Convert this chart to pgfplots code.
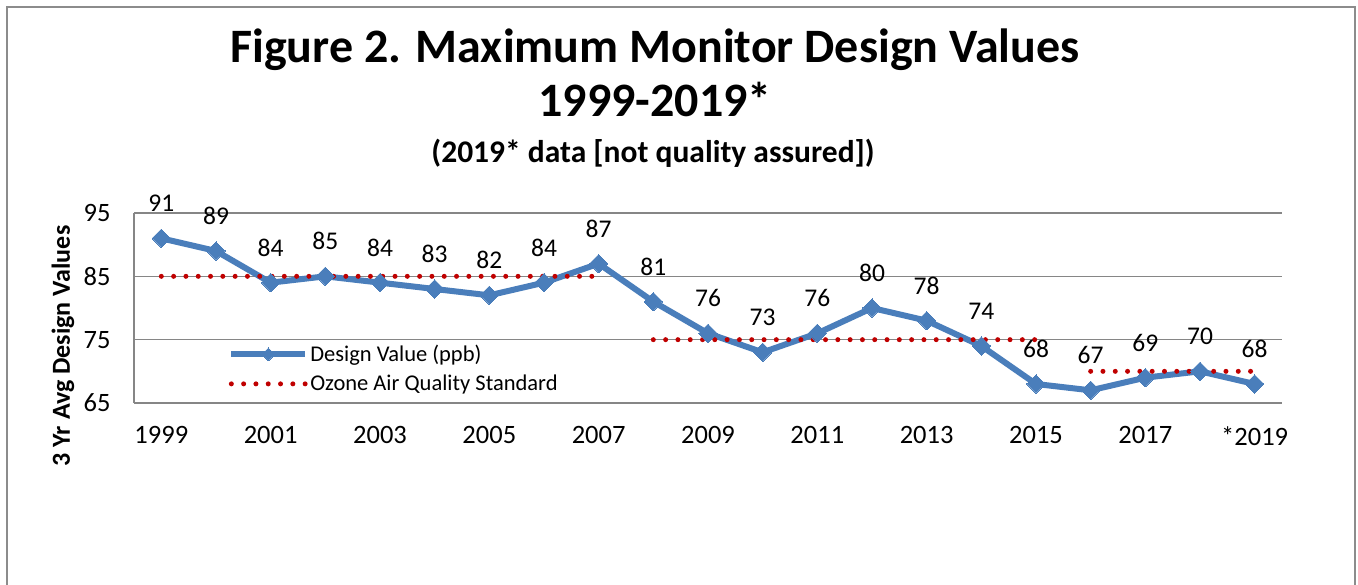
\documentclass[border=0pt]{standalone}
\usepackage{pgfplots}
\pgfplotsset{compat=1.18}
\usepackage{pgfplotstable}
\usepackage{fontspec}
\setmainfont{Carlito}
\definecolor{dvblue}{RGB}{74,126,187}
\definecolor{stdred}{RGB}{192,0,0}
\definecolor{gridgray}{RGB}{134,134,134}
\definecolor{framegray}{RGB}{140,140,140}
\pgfplotsset{
  dvlegend/.style={legend image code/.code={\draw[mark repeat=2,mark phase=2,mark size=4.5pt,##1] plot coordinates {(0pt,0pt) (37pt,0pt) (74pt,0pt)};}},
  stdlegend/.style={legend image code/.code={\draw[##1] (0pt,0pt) -- (74pt,0pt);}},
}
\pgfplotstableread{
x y lab
0 91 91
1 89 89
2 84 84
3 85 85
4 84 84
5 83 83
6 82 82
7 84 84
8 87 87
9 81 81
10 76 76
11 73 73
12 76 76
13 80 80
14 78 78
15 74 74
16 68 68
17 67 67
18 69 69
19 70 70
20 68 68
}\dvdata
\pgfplotstableread{
x y
0 85
1 85
2 85
3 85
4 85
5 85
6 85
7 85
8 85
8.5 nan
9 75
10 75
11 75
12 75
13 75
14 75
15 75
16 75
16.5 nan
17 70
18 70
19 70
20 70
}\stddata
\begin{document}
\begin{tikzpicture}
\useasboundingbox (0,0) rectangle (1358pt,584pt);
\clip (0,0) rectangle (1358pt,584pt);
\fill[white] (0,0) rectangle (1358pt,584pt);
\draw[framegray, line width=1.6pt] (7pt,-20pt) rectangle (1355pt,577pt);
\node[anchor=base, font=\bfseries\fontsize{48}{58}\selectfont] at (655pt,521pt) {Figure 2. Maximum Monitor Design Values};
\node[anchor=base, font=\bfseries\fontsize{48}{58}\selectfont] at (655pt,467pt) {1999-2019*};
\node[anchor=base, font=\bfseries\fontsize{31.5}{38}\selectfont] at (653pt,421pt) {(2019* data [not quality assured])};
\node[rotate=90, font=\bfseries\fontsize{26}{31}\selectfont] at (63pt,238pt) {3 Yr Avg Design Values};
\begin{axis}[
  at={(134pt,181pt)}, anchor=south west,
  scale only axis, width=1148pt, height=190pt,
  xmin=-0.5, xmax=20.5, ymin=65, ymax=95,
  ytick={65,75,85,95},
  xtick={0,2,...,20},
  xticklabels={1999,2001,2003,2005,2007,2009,2011,2013,2015,2017,*2019},
  axis x line*=bottom, axis y line*=left,
  axis line style={gridgray, line width=1.5pt, -},
  ymajorgrids, grid style={gridgray, line width=1.5pt},
  major tick length=0pt,
  ticklabel style={font=\fontsize{26.5}{31}\selectfont},
  /pgf/number format/assume math mode=true,
  yticklabel style={xshift=-20pt},
  xticklabel style={yshift=-20pt},
  legend style={draw=none, fill=none, at={(0.082,0.315)}, anchor=north west,
    font=\fontsize{22.5}{27}\selectfont, row sep=8pt, column sep=0pt, inner sep=0pt},
  legend cell align=left,
  clip=false,
]
\addplot[dvblue, line width=6pt, mark=square*, mark size=6.5pt,
  mark options={rotate=45, line width=0pt},
  nodes near coords, point meta=explicit symbolic,
  nodes near coords style={anchor=center, yshift=35pt, text=black, font=\fontsize{25.5}{30}\selectfont},
  dvlegend
] table[x=x,y=y,meta=lab] {\dvdata};
\addlegendentry{Design Value (ppb)}
\addplot[stdred, line width=5pt, line cap=round, dash pattern=on 0pt off 12.3pt,
  unbounded coords=jump, stdlegend
] table[x=x,y=y] {\stddata};
\addlegendentry{Ozone Air Quality Standard}
\end{axis}
\end{tikzpicture}
\end{document}
